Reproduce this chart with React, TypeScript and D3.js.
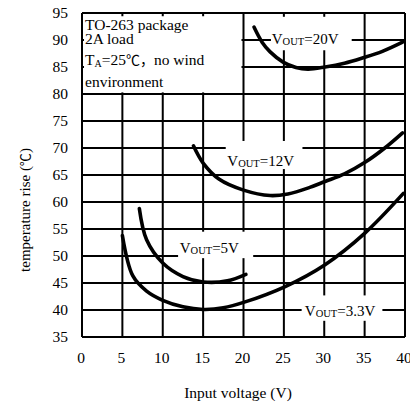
import React from "react";
import * as d3 from "d3";

const xTicks = [0, 5, 10, 15, 20, 25, 30, 35, 40];
const yTicks = [35, 40, 45, 50, 55, 60, 65, 70, 75, 80, 85, 90, 95];

const v20x = [21.3, 22.3, 23.3, 24.9, 26.5, 28.0, 30.1, 32.5, 34.8, 37.2, 39.7];
const v20y = [92.4, 89.6, 87.8, 85.9, 84.9, 84.6, 85.0, 85.7, 86.7, 87.9, 89.6];

const v12x = [13.8, 15.0, 17.0, 20.0, 23.3, 25.5, 28.2, 30.1, 32.5, 35.0, 37.5, 39.7];
const v12y = [70.4, 67.2, 64.2, 62.2, 61.2, 61.5, 62.7, 63.8, 65.2, 67.3, 70.0, 72.8];

const v5x = [7.1, 8.0, 10.0, 12.5, 15.0, 18.0, 20.3];
const v5y = [58.8, 53.0, 48.7, 46.2, 45.2, 45.4, 46.6];

const v33x = [5.0, 6.3, 8.0, 10.0, 12.5, 15.0, 17.5, 20.2, 25.1, 30.1, 35.0, 39.8];
const v33y = [53.8, 46.3, 43.5, 41.8, 40.6, 40.1, 40.4, 41.5, 44.3, 48.4, 54.2, 61.6];

const seriesNames = ["20V", "12V", "5V", "3.3V"];

const FONT = "'Liberation Serif', 'Times New Roman', serif";
const CJK = "'Noto Sans CJK SC', 'Liberation Serif', serif";

export default function App() {
  const W = 410, H = 405;
  const x = d3.scaleLinear().domain([0, 40]).range([82, 405]);
  const y = d3.scaleLinear().domain([35, 95]).range([337, 13]);

  const line = d3
    .line<[number, number]>()
    .x((d) => x(d[0]))
    .y((d) => y(d[1]))
    .curve(d3.curveCatmullRom.alpha(0.5));

  const curves = [
    d3.zip(v20x, v20y) as [number, number][],
    d3.zip(v12x, v12y) as [number, number][],
    d3.zip(v5x, v5y) as [number, number][],
    d3.zip(v33x, v33y) as [number, number][],
  ];

  // label boxes in data units: [x0, x1, yTop, yBottom], text anchor [x, y]
  const labels = [
    { box: [23.4, 33.4, 94.3, 88.1], tx: 23.5, ty: 89.2 },
    { box: [17.8, 27.3, 71.3, 66.1], tx: 18.0, ty: 66.7 },
    { box: [11.9, 21.2, 54.5, 49.6], tx: 12.1, ty: 50.6 },
    { box: [27.2, 37.2, 42.7, 38.0], tx: 27.6, ty: 38.8 },
  ];

  const stroke = 2;

  return (
    <svg
      width={W}
      height={H}
      style={{ position: "absolute", left: 0, top: 0, background: "#fff" }}
      fontFamily={FONT}
    >
      <rect x={0} y={0} width={W} height={H} fill="#fff" />
      {/* grid */}
      {xTicks.map((t) => (
        <line key={"gx" + t} x1={x(t)} x2={x(t)} y1={y(95)} y2={y(35)} stroke="#000" strokeWidth={stroke} />
      ))}
      {yTicks.map((t) => (
        <line key={"gy" + t} x1={x(0)} x2={x(40)} y1={y(t)} y2={y(t)} stroke="#000" strokeWidth={stroke} />
      ))}
      {/* info box mask */}
      <rect
        x={x(0.25)}
        y={y(94.4)}
        width={x(19.75) - x(0.25)}
        height={y(80.3) - y(94.4)}
        fill="#fff"
      />
      <g fontSize={15.5} fill="#000">
        <text x={85} y={30}>TO-263 package</text>
        <text x={85} y={44}>2A load</text>
        <text x={85} y={65}>
          T<tspan fontSize={10} dy={2}>A</tspan>
          <tspan dy={-2}>=25</tspan>
          <tspan fontFamily={CJK} fontSize={14}>℃，</tspan>
          <tspan>no wind</tspan>
        </text>
        <text x={85} y={87}>environment</text>
      </g>
      {/* label masks */}
      {labels.map((l, i) => (
        <rect
          key={"lm" + i}
          x={x(l.box[0])}
          y={y(l.box[2])}
          width={x(l.box[1]) - x(l.box[0])}
          height={y(l.box[3]) - y(l.box[2])}
          fill="#fff"
        />
      ))}
      {/* curves */}
      {curves.map((c, i) => (
        <path key={"c" + i} d={line(c) || ""} fill="none" stroke="#000" strokeWidth={3.6} strokeLinecap="round" />
      ))}
      {/* labels */}
      {labels.map((l, i) => (
        <text key={"lt" + i} x={x(l.tx)} y={y(l.ty)} fontSize={15} fill="#000">
          V<tspan fontSize={10.5} dy={1}>OUT</tspan>
          <tspan dy={-1}>={seriesNames[i]}</tspan>
        </text>
      ))}
      {/* tick labels */}
      {yTicks.map((t) => (
        <text key={"ty" + t} x={68} y={y(t)} dy="0.35em" textAnchor="end" fontSize={15.5} fill="#000">
          {t}
        </text>
      ))}
      {xTicks.map((t) => (
        <text key={"tx" + t} x={x(t) - 1} y={363} textAnchor="middle" fontSize={15.5} fill="#000">
          {t}
        </text>
      ))}
      <text x={238} y={398} textAnchor="middle" fontSize={15.5} fill="#000">
        Input voltage (V)
      </text>
      <text
        transform={`translate(30,210) rotate(-90)`}
        textAnchor="middle"
        fontSize={15}
        fill="#000"
      >
        temperature rise (<tspan fontFamily={CJK} fontSize={13}>℃</tspan>)
      </text>
    </svg>
  );
}
